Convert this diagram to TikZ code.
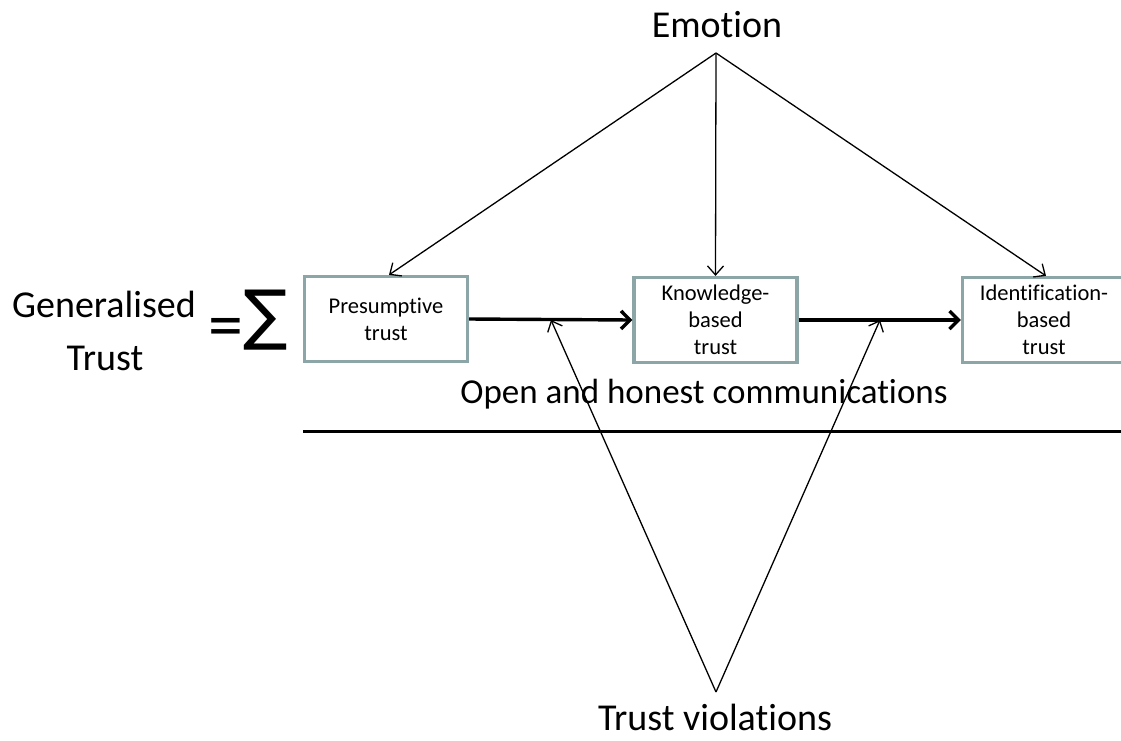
\documentclass[tikz,border=0pt]{standalone}
\usepackage{fontspec}
\setmainfont[Ligatures=NoCommon]{Carlito}
\newfontfamily\symfont{DejaVu Sans}
\usetikzlibrary{arrows.meta,calc}
\definecolor{boxgray}{RGB}{140,165,166}
\tikzset{
  trustbox/.style={draw=boxgray, line width=3.2pt, fill=white, minimum width=163pt, minimum height=85pt, inner sep=0pt, align=center, font=\fontsize{22.5}{27}\selectfont},
  thinarrow/.style={line width=1.3pt, -{Straight Barb[length=9pt,width=16pt,line width=1.3pt]}},
  thickarrow/.style={line width=3.4pt, -{Straight Barb[length=9pt,width=18pt,line width=3.4pt]}},
  bigtext/.style={font=\fontsize{38}{53}\selectfont, inner sep=0pt, align=center},
}
\begin{document}
\begin{tikzpicture}[x=1pt,y=-1pt]
\useasboundingbox[fill=white] (0,0) rectangle (1121,740);
% boxes
\node[trustbox] (pres) at (386,319) {Presumptive\\trust};
\node[trustbox] (know) at (715.5,320) {Knowledge-\\based\\trust};
\node[trustbox] (iden) at (1044,320) {Identification-\\based\\trust};
% texts
\node[bigtext, anchor=base, text depth=0pt] (viol) at (715,730) {Trust violations};
\node[bigtext, anchor=base] (emo) at (717,37) {Emotion};
\node[font=\fontsize{35}{40}\selectfont, inner sep=0pt, anchor=base] (comm) at (704,403) {Open and honest communications};
\node[bigtext, anchor=base] (gen1) at (104,317) {Generalised};
\node[bigtext, anchor=base] (gen2) at (105,370) {Trust};
\node[font=\fontsize{70}{70}\selectfont, inner sep=0pt] (eq) at (226,333) {=};
\node[font=\symfont\fontsize{66}{66}\selectfont, inner sep=0pt] (sig) at (266,320) {∑};
% apex coordinates
\coordinate (eapex) at (716,53);
\coordinate (vapex) at (716,692);
\coordinate (h1) at (551,320);
\coordinate (h2) at (880,320);
% base line
\coordinate (lineL) at (303,431);
\coordinate (lineR) at (1121,431);
\draw[line width=3pt] (lineL) -- (lineR);
% thick arrows between boxes
\draw[thickarrow] (pres.east) -- (know.west);
\draw[thickarrow] (know.east) -- (iden.west);
% emotion arrows
\draw[thinarrow] (eapex) -- ([xshift=3pt]pres.north);
\draw[thinarrow] (eapex) -- (know.north);
\draw[thinarrow] (eapex) -- ([xshift=2pt]iden.north);
% violation arrows
\draw[thinarrow] (vapex) -- (h1);
\draw[thinarrow] (vapex) -- (h2);
\end{tikzpicture}
\end{document}
